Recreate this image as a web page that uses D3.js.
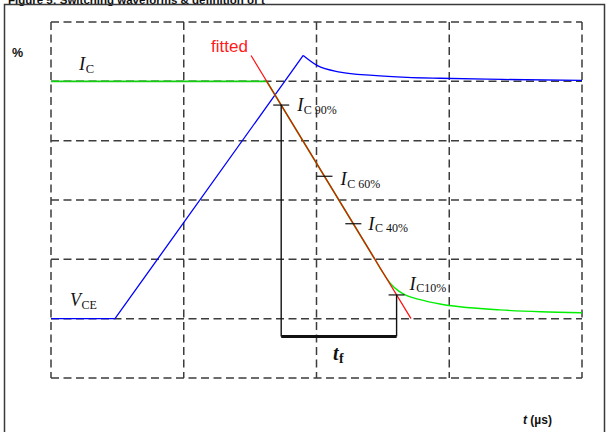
<!DOCTYPE html>
<html>
<head>
<meta charset="utf-8">
<script src="https://cdn.jsdelivr.net/npm/d3@7"></script>
<style>
  html, body { margin: 0; padding: 0; background: #fff; }
  svg { display: block; }
</style>
</head>
<body>
<svg id="chart" width="608" height="432"></svg>
<script>
// ---------- data (time in grid units 0..400, value in %) ----------
const xGridTicks = [0, 100, 200, 300, 400];
const yGridTicks = [-25, 0, 25, 50, 75, 100, 125];

// Collector current: flat, linear fall (on fitted line), then tail
const icFlatFall = [[0, 100], [162.5, 100], [244, 25]];
const icTail = [[244, 25], [250, 19.4], [256, 14.6], [262, 11.6], [268, 9.7], [278, 8.0],
                [293, 6.2], [308, 5.0], [338, 3.7], [369, 2.9], [400, 2.5]];

// Collector-emitter voltage: flat, linear rise, overshoot decay
const vceRise = [[0, 0], [48.2, 0], [190, 110.9]];
const vceTail = [[190, 110.9], [200.4, 106.7], [217.7, 103.9], [242.6, 102.5],
                 [268.2, 101.7], [293, 101.3], [340, 100.8], [400, 100.4]];

// fitted straight line through the fall
const fittedLine = [[150.7, 110.9], [271.2, 0]];

// marker levels on the fitted line
const markerLevels = [90, 60, 40, 10];
const markerLabels = ["C 90%", "C 60%", "C 40%", "C10%"];
const tfBarLevel = -7.5;

const titleText = "Figure 5: Switching waveforms & definition of t";

// ---------- drawing ----------
const svg = d3.select("#chart");
const x = d3.scaleLinear().domain([0, 400]).range([51, 582]);
const y = d3.scaleLinear().domain([-25, 125]).range([378, 22]);

const fitT = d3.scaleLinear().domain([fittedLine[0][1], fittedLine[1][1]]).range([fittedLine[0][0], fittedLine[1][0]]);

// title (cut off at top, as in the reference)
svg.append("text").attr("x", 8).attr("y", 3.5)
  .attr("font-family", "Liberation Sans, Arial, sans-serif")
  .attr("font-weight", "bold").attr("font-size", 11.5).attr("fill", "#111")
  .text(titleText);

// outer frame
svg.append("path")
  .attr("d", "M4.5,440 L4.5,4.5 L604.5,4.5 L604.5,440")
  .attr("fill", "none").attr("stroke", "#3a3a3a").attr("stroke-width", 1.5);

// grid
const grid = svg.append("g").attr("stroke", "#3c3c3c").attr("stroke-width", 1.5)
  .attr("stroke-dasharray", "8,4.5").attr("fill", "none");
grid.selectAll("line.v").data(xGridTicks).join("line").attr("class", "v")
  .attr("x1", d => x(d)).attr("x2", d => x(d)).attr("y1", y(125)).attr("y2", y(-25));
grid.selectAll("line.h").data(yGridTicks).join("line").attr("class", "h")
  .attr("y1", d => y(d)).attr("y2", d => y(d)).attr("x1", x(0)).attr("x2", x(400));

const lineLin = d3.line().x(d => x(d[0])).y(d => y(d[1]));
const lineSmooth = d3.line().x(d => x(d[0])).y(d => y(d[1])).curve(d3.curveMonotoneX);

// VCE (blue)
svg.append("path").attr("d", lineLin(vceRise)).attr("fill", "none")
  .attr("stroke", "#0000ff").attr("stroke-width", 1.3);
svg.append("path").attr("d", lineSmooth(vceTail)).attr("fill", "none")
  .attr("stroke", "#0000ff").attr("stroke-width", 1.3);

// IC (green)
svg.append("path").attr("d", lineLin(icFlatFall)).attr("fill", "none")
  .attr("stroke", "#10d010").attr("stroke-width", 1.7);
svg.append("path").attr("d", lineSmooth(icTail)).attr("fill", "none")
  .attr("stroke", "#00ee00").attr("stroke-width", 1.4);

// fitted line (red)
svg.append("path").attr("d", lineLin(fittedLine)).attr("fill", "none")
  .attr("stroke", "#ff0000").attr("stroke-width", 1.2).attr("stroke-opacity", 0.95);

// marker ticks
svg.selectAll("line.tick").data(markerLevels).join("line").attr("class", "tick")
  .attr("x1", d => x(fitT(d)) - 8).attr("x2", d => x(fitT(d)) + 8)
  .attr("y1", d => y(d)).attr("y2", d => y(d))
  .attr("stroke", "#111").attr("stroke-width", 1.2);

// t_f construction
const tStart = fitT(90), tEnd = fitT(10);
svg.append("line").attr("x1", x(tStart)).attr("x2", x(tStart)).attr("y1", y(90)).attr("y2", y(tfBarLevel))
  .attr("stroke", "#111").attr("stroke-width", 1.4);
svg.append("line").attr("x1", x(tEnd)).attr("x2", x(tEnd)).attr("y1", y(10)).attr("y2", y(tfBarLevel))
  .attr("stroke", "#111").attr("stroke-width", 1.4);
svg.append("line").attr("x1", x(tStart)).attr("x2", x(tEnd)).attr("y1", y(tfBarLevel)).attr("y2", y(tfBarLevel))
  .attr("stroke", "#111").attr("stroke-width", 3);

const serif = "Liberation Serif, 'Times New Roman', serif";
function subLabel(px, py, main, sub, size, subSize, opts = {}) {
  const t = svg.append("text").attr("x", px).attr("y", py)
    .attr("font-family", serif).attr("fill", "#111");
  t.append("tspan").attr("font-style", "italic").attr("font-size", size)
    .attr("font-weight", opts.bold ? "bold" : "normal").text(main);
  t.append("tspan").attr("font-size", subSize).attr("dy", opts.dy || 2.5)
    .attr("dx", opts.dx || 0.5)
    .attr("font-weight", opts.bold ? "bold" : "normal").text(sub);
  return t;
}

// marker labels
const labelOffsets = [[16, 6], [16, 9], [15, 6], [13, -5]];
markerLevels.forEach((lv, i) => {
  subLabel(x(fitT(lv)) + labelOffsets[i][0], y(lv) + labelOffsets[i][1], "I", markerLabels[i], 18.5, 12);
});

// curve labels
subLabel(79, 70, "I", "C", 18.5, 12.5);
subLabel(70, 306, "V", "CE", 18, 12);
subLabel(333, 360, "t", "f", 20, 14, { bold: true, dy: 3 });

// "fitted" label
svg.append("text").attr("x", 211).attr("y", 52)
  .attr("font-family", "Liberation Sans, Arial, sans-serif").attr("font-size", 17)
  .attr("fill", "#ff1a1a").text("fitted");

// axis unit labels
svg.append("text").attr("x", 12).attr("y", 57)
  .attr("font-family", "Liberation Sans, Arial, sans-serif").attr("font-size", 12.5)
  .attr("font-weight", "bold").attr("fill", "#111").text("%");

const tl = svg.append("text").attr("x", 523).attr("y", 424)
  .attr("font-family", "Liberation Sans, Arial, sans-serif").attr("font-size", 12)
  .attr("font-weight", "bold").attr("fill", "#111");
tl.append("tspan").attr("font-style", "italic").text("t");
tl.append("tspan").text(" (µs)");
</script>
</body>
</html>
